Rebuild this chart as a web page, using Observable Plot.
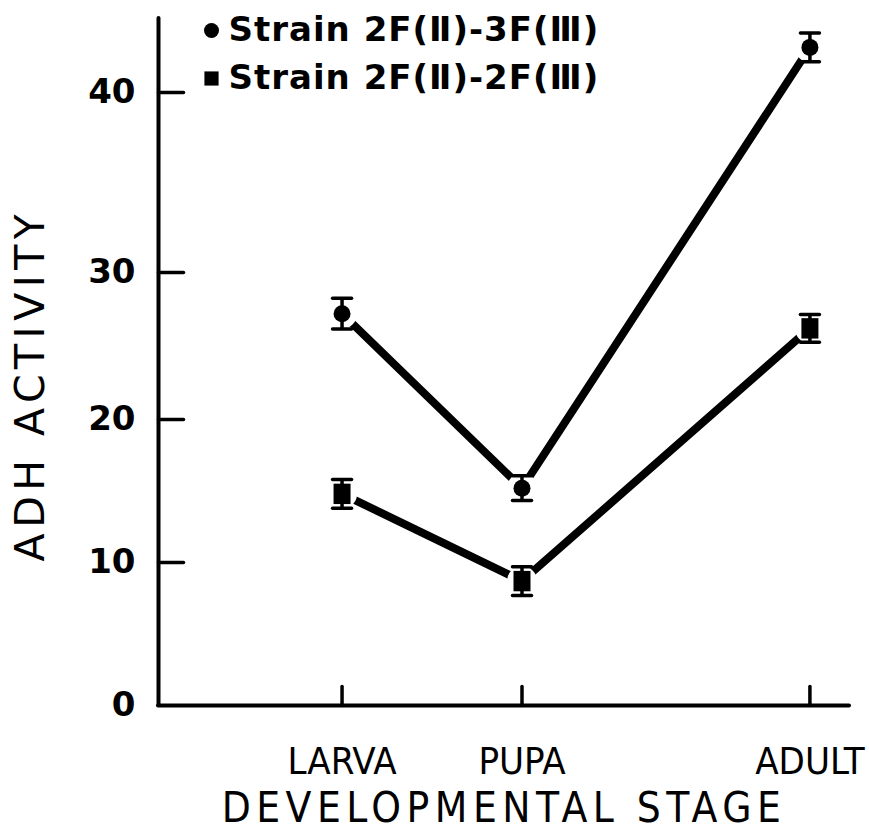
<!DOCTYPE html>
<html><head><meta charset="utf-8">
<script src="https://cdn.jsdelivr.net/npm/d3@7"></script>
<script src="https://cdn.jsdelivr.net/npm/@observablehq/plot@0.6"></script>
<style>html,body{margin:0;padding:0;background:#fff}#chart svg{display:block}</style>
</head><body><div id="chart"></div>
<script>
// ---- data ----
const stages = ["LARVA", "PUPA", "ADULT"];
const stagePos = [1, 2, 3.6];
const strainA = [27.2, 15.2, 42.5];      // circles
const strainAErr = [1.05, 0.87, 0.8];
const strainB = [14.8, 8.7, 26.2];       // squares
const strainBErr = [1.0, 1.0, 0.95];
const yTicks = [0, 10, 20, 30, 40];
const seriesNames = ["Strain 2F(Ⅱ)-3F(Ⅲ)", "Strain 2F(Ⅱ)-2F(Ⅲ)"];
const xTitle = "DEVELOPMENTAL STAGE";
const yTitle = "ADH ACTIVITY";

// ---- table ----
const rows = stages.flatMap((s, i) => [
  {stage: s, pos: stagePos[i], series: seriesNames[0], value: strainA[i], err: strainAErr[i]},
  {stage: s, pos: stagePos[i], series: seriesNames[1], value: strainB[i], err: strainBErr[i]}
]);
const A = rows.filter(d => d.series === seriesNames[0]);
const B = rows.filter(d => d.series === seriesNames[1]);

const xDomain = [-0.02, 3.82];
const yDomain = [0, 10, 20, 30, 40, 44.1];
const yRange = [705, 562, 419, 272, 92, 18];

const tickShape = {draw(ctx, l) { ctx.moveTo(0, 0); ctx.lineTo(0, -l); }};
const rectSymbol = {draw(ctx, size) {
  const s = Math.sqrt(size / Math.PI);
  const w = 2.0 * s, h = 2.4 * s;
  ctx.rect(-w / 2, -h / 2, w, h);
}};
const cond = "'DejaVu Sans Condensed', 'DejaVu Sans', sans-serif";
const wide = "'DejaVu Sans', sans-serif";

const chart = Plot.plot({
  width: 869, height: 830,
  marginLeft: 158, marginRight: 20, marginTop: 18, marginBottom: 125,
  style: {background: "white", color: "black", overflow: "visible"},
  x: {type: "linear", domain: xDomain},
  y: {type: "linear", domain: yDomain, range: yRange},
  marks: [
    // axes lines
    Plot.ruleX([xDomain[0]], {y1: yDomain[0], y2: yDomain[yDomain.length - 1], strokeWidth: 4, strokeLinecap: "round"}),
    Plot.ruleY([0], {x1: xDomain[0], x2: xDomain[1], strokeWidth: 4, strokeLinecap: "round"}),
    // inward ticks
    Plot.vector(yTicks.slice(1), {x: xDomain[0], y: d => d, rotate: 90, length: 25, anchor: "start", shape: tickShape, strokeWidth: 3.5}),
    Plot.vector(stagePos, {x: d => d, y: 0, length: 19, anchor: "start", shape: tickShape, strokeWidth: 3.5}),
    // tick labels
    Plot.axisY({ticks: yTicks, tickSize: 0, tickPadding: 23, fontSize: 34, fontWeight: "bold", fontFamily: wide, label: null}),
    Plot.axisX({ticks: stagePos, tickFormat: d => stages[stagePos.indexOf(d)], tickSize: 0, tickPadding: 42, fontSize: 38, fontFamily: cond, label: null}),
    // axis titles
    Plot.text([xTitle], {text: d => d, frameAnchor: "bottom", dy: 103, textAnchor: "middle", lineAnchor: "middle", fontSize: 42, fontFamily: cond}),
    Plot.text([yTitle], {text: d => d, frameAnchor: "left", dx: -128, dy: 23, rotate: -90, textAnchor: "middle", lineAnchor: "middle", fontSize: 41, fontFamily: wide}),
    // series lines
    Plot.line(rows, {x: "pos", y: "value", z: "series", stroke: "black", strokeWidth: 8, strokeLinecap: "round"}),
    // white gaps around markers
    Plot.dot(rows, {x: "pos", y: "value", r: 15, fill: "white", stroke: null}),
    // error bars
    Plot.ruleX(rows, {x: "pos", y1: d => d.value - d.err, y2: d => d.value + d.err, strokeWidth: 3.5}),
    Plot.vector(rows, {x: "pos", y: d => d.value + d.err, rotate: 90, length: 19, anchor: "middle", shape: tickShape, strokeWidth: 3.5}),
    Plot.vector(rows, {x: "pos", y: d => d.value - d.err, rotate: 90, length: 19, anchor: "middle", shape: tickShape, strokeWidth: 3.5}),
    // markers
    Plot.dot(A, {x: "pos", y: "value", r: 8.5, fill: "black", symbol: "circle"}),
    Plot.dot(B, {x: "pos", y: "value", r: 8.5, fill: "black", symbol: rectSymbol}),
    // legend
    Plot.dot([seriesNames[0]], {frameAnchor: "top-left", dx: 53, dy: 12, r: 7.5, fill: "black", symbol: "circle"}),
    Plot.dot([seriesNames[1]], {frameAnchor: "top-left", dx: 53, dy: 60, r: 8, fill: "black", symbol: "square"}),
    Plot.text([seriesNames[0]], {text: d => d, frameAnchor: "top-left", dx: 70, dy: 12, textAnchor: "start", lineAnchor: "middle", fontSize: 34, fontWeight: "bold", fontFamily: wide}),
    Plot.text([seriesNames[1]], {text: d => d, frameAnchor: "top-left", dx: 70, dy: 60, textAnchor: "start", lineAnchor: "middle", fontSize: 34, fontWeight: "bold", fontFamily: wide})
  ]
});
// letter spacing (text styling not exposed as mark option)
const spacing = new Map([[xTitle, "5.5px"], [yTitle, "5.5px"], [seriesNames[0], "1px"], [seriesNames[1], "1px"]]);
d3.select(chart).selectAll("text").each(function () {
  const ls = spacing.get(this.textContent);
  if (ls) this.style.letterSpacing = ls;
});
document.getElementById("chart").appendChild(chart);
</script>
</body></html>
